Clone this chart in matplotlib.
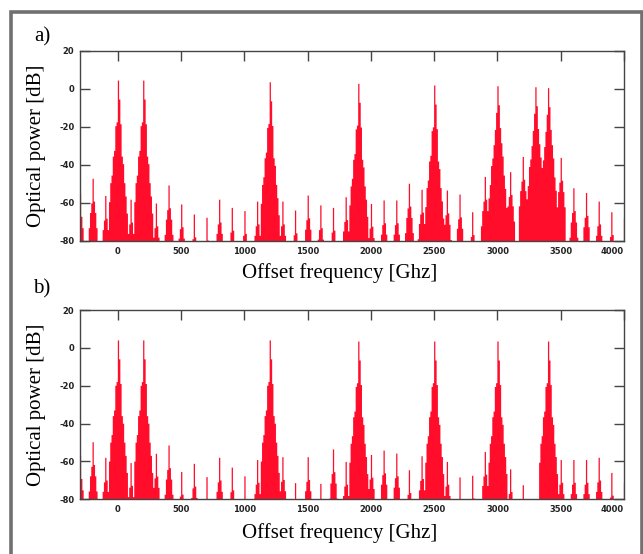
import numpy as np
import matplotlib
matplotlib.use("Agg")
import matplotlib.pyplot as plt
from matplotlib.patches import Rectangle

plt.rcParams['axes.unicode_minus'] = False

# frequency grid of the spectrum lines [GHz]
freq_grid = np.arange(-300, 4001, 10)

# shape of one channel lobe (dB below the peak line)
lobe_offsets = [-70, -60, -50, -40, -30, -20, -10, 0, 10, 20, 30, 40, 50, 60, 70]
narrow_lobe = [-64, -54, -50, -40, -37, -24, -22, 0, -10, -23, -40, -44, -54, -61, -70]
broad_lobe = [-59, -52, -42, -38, -31, -23, -14, 0, -10, -22, -30, -37, -47, -54, -64]

# small mixing products around a spur line
spur_offsets = [-30, -20, -10, 0, 10, 20, 30]
spur_shape = [-26, -18, -13, 0, -12, -18, -26]

# a) with crosstalk
top_channels = [0, 200, 1200, 1900, 2500]
top_channel_db = [4.7, 4.7, 3.8, 3.0, 2.1]
top_broad_channels = [3000, 3300, 3400]
top_broad_db = [1.7, 1.2, 0.7]
top_spur_freq = [-300, -200, -100, 100, 300, 400, 500, 600, 700, 800, 900, 1000,
                 1100, 1300, 1400, 1500, 1600, 1700, 1800, 2000, 2100, 2200, 2300,
                 2400, 2600, 2700, 2800, 2900, 3100, 3200, 3500, 3600, 3700, 3800,
                 3900, 4000]
top_spur_db = [-55, -47, -56, -58, -60, -50.5, -60.5, -65.8, -67.5, -58, -62.3, -64,
               -59, -59, -63.7, -55.8, -61, -62.3, -56.7, -60.2, -58.4, -58.4, -49.6,
               -52.8, -53.2, -55.3, -64.6, -46, -43.5, -35.5, -36, -52, -54.5, -59,
               -64.6, -68]

# b)
bottom_channels = [0, 200, 1200, 1900, 2500, 3000, 3400]
bottom_channel_db = [4.2, 4.2, 4.2, 3.6, 3.6, 3.6, 3.6]
bottom_spur_freq = [-300, -200, -100, 100, 300, 400, 500, 600, 700, 800, 900, 1000,
                    1100, 1300, 1400, 1500, 1600, 1700, 1800, 2000, 2100, 2200, 2300,
                    2400, 2600, 2700, 2800, 2900, 3100, 3200, 3500, 3600, 3700, 3800,
                    3900, 4000]
bottom_spur_db = [-57, -49.6, -57.8, -60.6, -55.7, -51.3, -65.3, -61, -68, -57.8, -63,
                  -67.6, -59, -57.5, -71.2, -57.5, -71.6, -53.4, -60, -56.3, -54, -55.6,
                  -64.4, -57, -60, -68.2, -67.3, -54.7, -63.9, -72.3, -59, -59, -59,
                  -57.8, -65.8, -71.2]

xticks = [0, 500, 1000, 1500, 2000, 2500, 3000, 3500, 4000]
yticks = [20, 0, -20, -40, -60, -80]
floor = -80
red = '#FF0D2B'


def spectrum(groups):
    level = np.full(freq_grid.shape, float(floor))
    for centers, peaks, offsets, shape in groups:
        for c, p in zip(centers, peaks):
            for off, rel in zip(offsets, shape):
                i = int(round((c + off - freq_grid[0]) / 10))
                if 0 <= i < len(level):
                    level[i] = max(level[i], p + rel)
    return level


top_level = spectrum([
    (top_channels, top_channel_db, lobe_offsets, narrow_lobe),
    (top_broad_channels, top_broad_db, lobe_offsets, broad_lobe),
    (top_spur_freq, top_spur_db, spur_offsets, spur_shape),
])
bottom_level = spectrum([
    (bottom_channels, bottom_channel_db, lobe_offsets, narrow_lobe),
    (bottom_spur_freq, bottom_spur_db, spur_offsets, spur_shape),
])

fig = plt.figure(figsize=(6.43, 5.54), dpi=100)
ax_top = fig.add_axes([80 / 643, 1 - 241 / 554, 544 / 643, 190 / 554])
ax_bot = fig.add_axes([80 / 643, 1 - 499.3 / 554, 544 / 643, 189.3 / 554])

serif = 'Liberation Serif'
for ax, level, label_y, tag, tag_y in [(ax_top, top_level, 273, 'a)', 37),
                                        (ax_bot, bottom_level, 533, 'b)', 289)]:
    ax.fill_between(freq_grid, floor, level, step='mid', color=red, linewidth=0)
    ax.set_xlim(-300, 4000)
    ax.set_ylim(-80, 20)
    ax.set_xticks(xticks, [str(t) for t in xticks])
    ax.set_yticks(yticks, [str(t) for t in yticks])
    ax.get_xticklabels()[-1].set_horizontalalignment('right')
    ax.tick_params(direction='in', length=7, width=1, color='#444444',
                   labelsize=6, labelcolor='#222222', top=True, right=True,
                   bottom=False, pad=4)
    for t in ax.get_xticklabels() + ax.get_yticklabels():
        t.set_fontweight('bold')
    for s in ax.spines.values():
        s.set_color('#444444')
        s.set_linewidth(1.0)
    ax.set_ylabel('Optical power [dB]', fontsize=15, family=serif)
    ax.yaxis.label.set_verticalalignment('center')
    ax.yaxis.set_label_coords((36.5 - 80) / 544, 0.5)
    fig.text(340 / 643, 1 - label_y / 554, 'Offset frequency [Ghz]', fontsize=15,
             family=serif, ha='center', va='center')
    fig.text(42 / 643, 1 - tag_y / 554, tag, fontsize=15, family=serif,
             ha='center', va='center')

# grey frame round the figure
fig.add_artist(Rectangle((11.3 / 643, -0.05), (641.5 - 11.3) / 643, (554 - 11.5) / 554 + 0.05,
                         transform=fig.transFigure, fill=False, edgecolor='#707070',
                         linewidth=2.6))

fig.savefig('out.png', dpi=100)
